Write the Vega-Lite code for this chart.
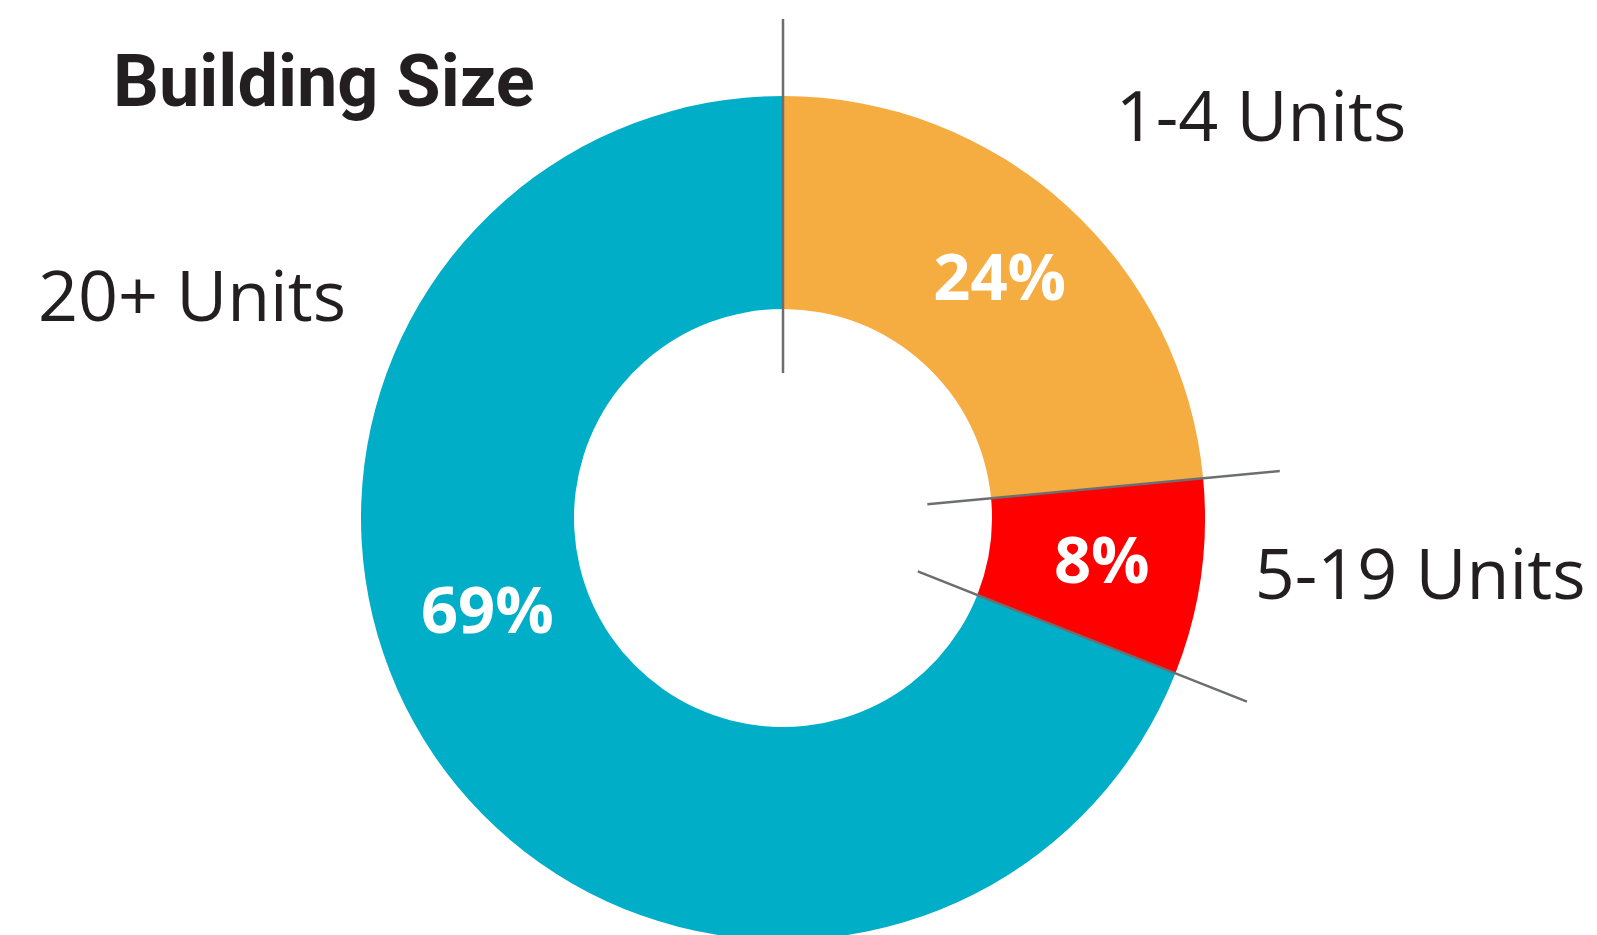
{
  "$schema": "https://vega.github.io/schema/vega-lite/v6.json",
  "autosize": "none",
  "width": 1340,
  "height": 756,
  "padding": {"left": 113, "top": 140, "right": 144, "bottom": 39},
  "background": "white",
  "title": {
    "text": "Building Size",
    "anchor": "start",
    "frame": "group",
    "font": "Roboto",
    "fontSize": 72,
    "fontWeight": "bold",
    "color": "#231f20",
    "baseline": "alphabetic",
    "offset": 0,
    "dy": 164
  },
  "data": {
    "values": [
      {"category": "1-4 Units", "share": 0.235, "label": "24%"},
      {"category": "5-19 Units", "share": 0.075, "label": "8%"},
      {"category": "20+ Units", "share": 0.69, "label": "69%"}
    ]
  },
  "transform": [{"window": [{"op": "row_number", "as": "idx"}]}],
  "encoding": {
    "theta": {"field": "share", "type": "quantitative", "stack": true, "scale": {"domain": [0, 1]}},
    "order": {"field": "idx", "type": "quantitative"},
    "detail": {"field": "category", "type": "nominal"}
  },
  "layer": [
    {
      "mark": {"type": "arc", "innerRadius": 209, "outerRadius": 422},
      "encoding": {
        "color": {
          "field": "category",
          "type": "nominal",
          "scale": {"domain": ["1-4 Units", "5-19 Units", "20+ Units"], "range": ["#f5ac40", "#ff0000", "#00aec7"]},
          "legend": null
        }
      }
    },
    {
      "transform": [{"stack": "share", "groupby": [], "sort": [{"field": "idx", "order": "ascending"}], "as": ["s0", "s1"]}],
      "mark": {"type": "arc", "innerRadius": 145, "outerRadius": 499, "filled": false, "stroke": "#6d6e71", "strokeWidth": 2.5},
      "encoding": {
        "theta": {"field": "s0", "type": "quantitative", "stack": null},
        "theta2": {"field": "s0"}
      }
    },
    {
      "mark": {"type": "text", "radius": 322, "font": "Open Sans", "fontWeight": "bold", "fontSize": 65, "color": "white", "align": "center", "baseline": "middle"},
      "encoding": {
        "text": {"condition": {"test": "datum.category !== '20+ Units'", "field": "label"}, "value": ""}
      }
    },
    {
      "mark": {"type": "text", "radius": 320, "dx": -31, "dy": -85, "font": "Open Sans", "fontWeight": "bold", "fontSize": 65, "color": "white", "align": "center", "baseline": "middle"},
      "encoding": {
        "text": {"condition": {"test": "datum.category === '20+ Units'", "field": "label"}, "value": ""}
      }
    },
    {
      "transform": [
        {"stack": "share", "groupby": [], "sort": [{"field": "idx", "order": "ascending"}], "as": ["s0", "s1"]},
        {"filter": "datum.category === '1-4 Units'"}
      ],
      "mark": {"type": "text", "radius": 398, "dx": 478, "font": "Open Sans", "fontSize": 70, "color": "#231f20", "align": "center", "baseline": "middle"},
      "encoding": {
        "theta": {"field": "s0", "type": "quantitative", "stack": null},
        "text": {"field": "category"}
      }
    },
    {
      "transform": [
        {"stack": "share", "groupby": [], "sort": [{"field": "idx", "order": "ascending"}], "as": ["s0", "s1"]},
        {"filter": "datum.category === '5-19 Units'"}
      ],
      "mark": {"type": "text", "radius": 640, "dy": 120, "font": "Open Sans", "fontSize": 70, "color": "#231f20", "align": "center", "baseline": "middle"},
      "encoding": {
        "theta": {"field": "s0", "type": "quantitative", "stack": null},
        "text": {"field": "category"}
      }
    },
    {
      "transform": [
        {"stack": "share", "groupby": [], "sort": [{"field": "idx", "order": "ascending"}], "as": ["s0", "s1"]},
        {"filter": "datum.category === '20+ Units'"}
      ],
      "mark": {"type": "text", "radius": 218, "dx": -591, "font": "Open Sans", "fontSize": 70, "color": "#231f20", "align": "center", "baseline": "middle"},
      "encoding": {
        "theta": {"field": "s1", "type": "quantitative", "stack": null},
        "text": {"field": "category"}
      }
    }
  ]
}
